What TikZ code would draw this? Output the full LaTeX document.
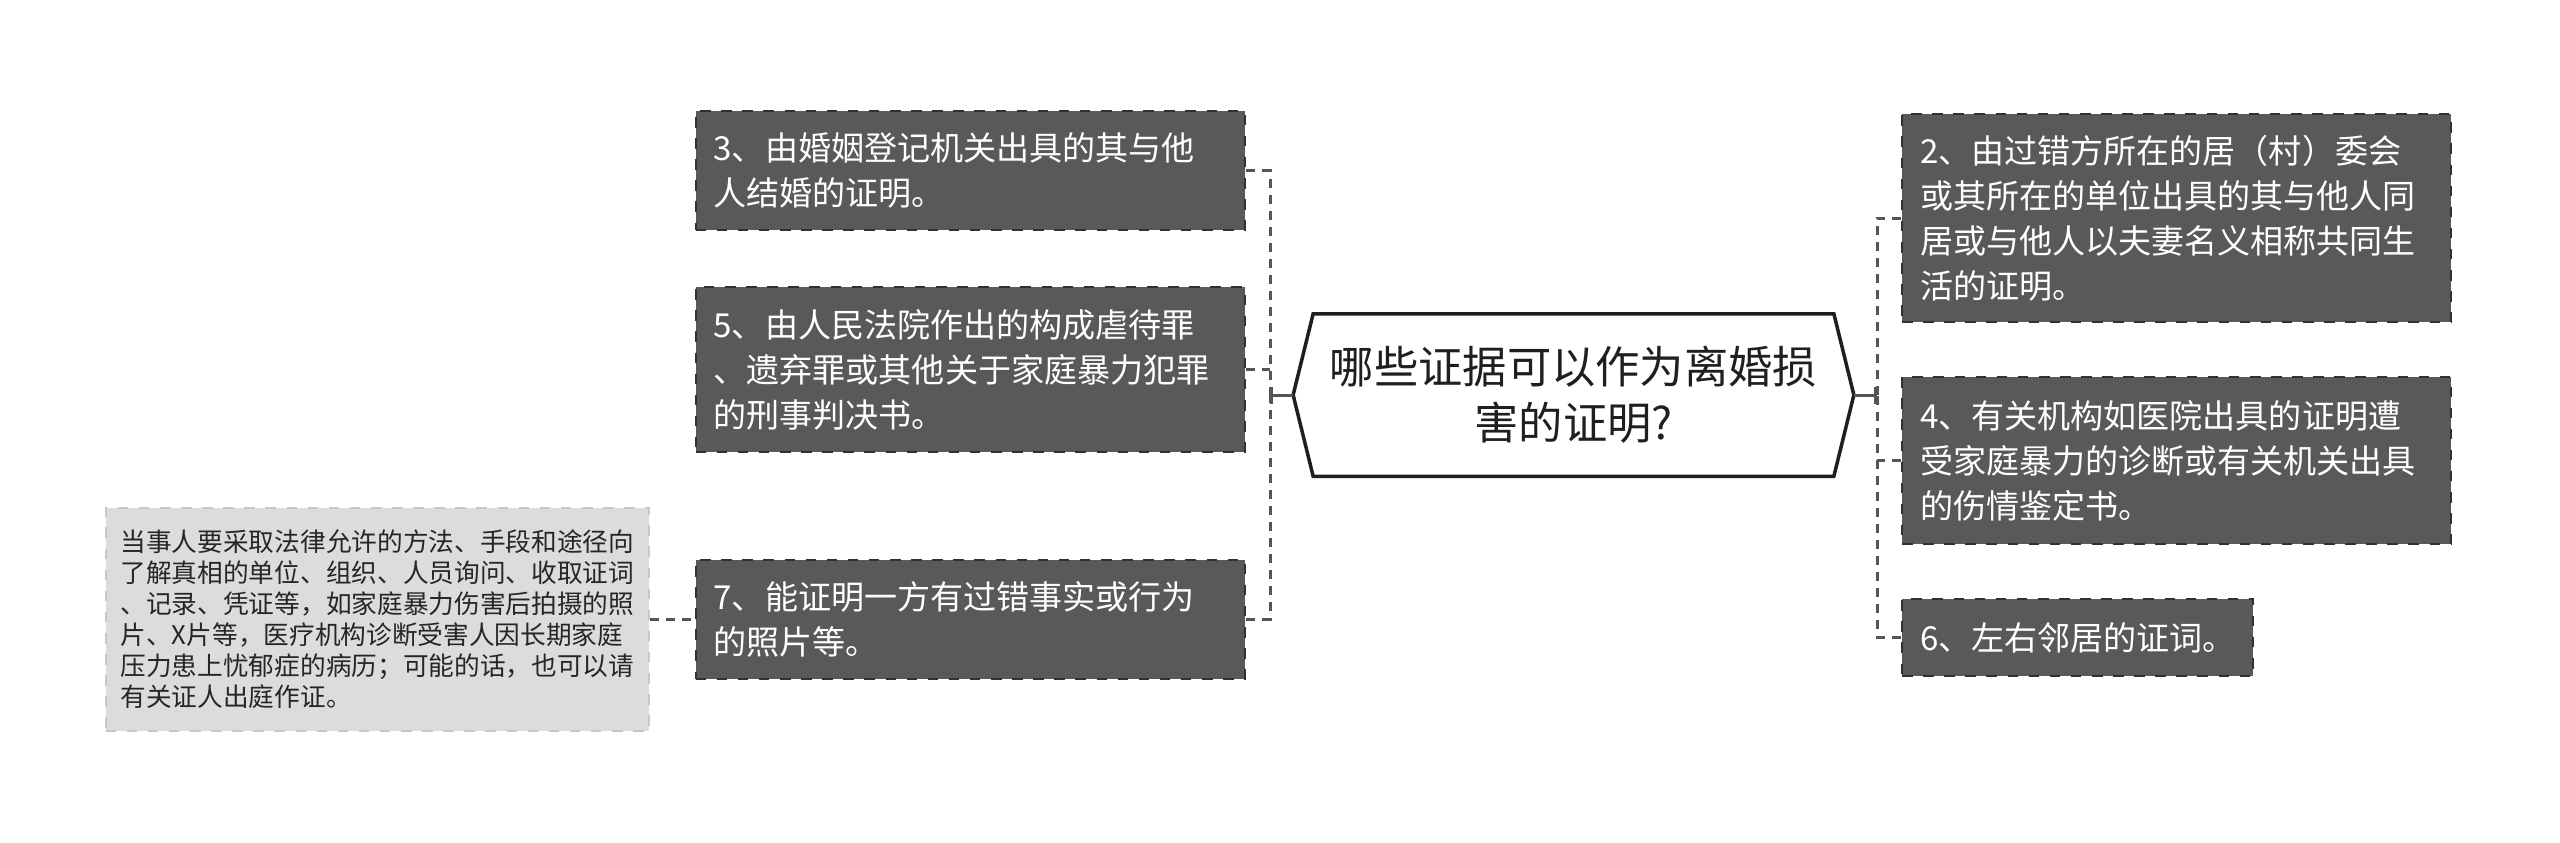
\documentclass[tikz,border=0pt]{standalone}
\usepackage{fontspec}
\setmainfont{Noto Sans CJK SC}
\usepackage{xcolor}
\usetikzlibrary{arrows.meta}
\definecolor{leafgray}{HTML}{595959}
\definecolor{notegray}{HTML}{DCDCDC}
\definecolor{linkgray}{HTML}{555555}

\begin{document}
\begin{tikzpicture}[x=0.01cm, y=-0.01cm,
    leaf/.style={draw=leafgray!55!black, dashed, line width=0.6pt, fill=leafgray,
      text=white, font=\fontsize{9.4}{12.8}\selectfont, align=left,
      inner xsep=0.18cm, inner ysep=0pt, text width=5.13cm},
    note/.style={draw=black!22, dashed, line width=0.6pt, fill=notegray,
      text=black!85, font=\fontsize{7.3}{8.8}\selectfont, align=left,
      inner xsep=0.15cm, inner ysep=0pt, text width=5.13cm, minimum height=2.23cm},
    link/.style={draw=linkgray, line width=0.03cm, dash pattern=on 0.09cm off 0.07cm},
    stem/.style={draw=linkgray, line width=0.03cm, -{Bar[width=0.17cm,line width=0.03cm]}},
    hexline/.style={draw=black!88, line width=0.035cm, line join=miter}]
    \useasboundingbox (0,0) rectangle (2560,842);

    % centre
    \node[font=\fontsize{12.6}{15.9}\selectfont, align=center, text=black!88,
          minimum width=5.59cm, minimum height=1.61cm] (root) at (1573.5,395)
      {哪些证据可以作为离婚损\\害的证明?};
    \draw[hexline] ([xshift=0.2cm]root.north west) -- ([xshift=-0.2cm]root.north east)
      -- (root.east) -- ([xshift=-0.2cm]root.south east)
      -- ([xshift=0.2cm]root.south west) -- (root.west) -- cycle;

    % left side
    \node[leaf, minimum height=1.19cm, anchor=east] (b3) at (1246,170.5)
      {3、由婚姻登记机关出具的其与他\\人结婚的证明。};
    \node[leaf, minimum height=1.65cm, anchor=east] (b5) at (1246,369.5)
      {5、由人民法院作出的构成虐待罪\\、遗弃罪或其他关于家庭暴力犯罪\\的刑事判决书。};
    \node[leaf, minimum height=1.19cm, anchor=east] (b7) at (1246,619.5)
      {7、能证明一方有过错事实或行为\\的照片等。};
    \node[note, anchor=east] (n7) at (650,619.5)
      {当事人要采取法律允许的方法、手段和途径向\\
       了解真相的单位、组织、人员询问、收取证词\\
       、记录、凭证等，如家庭暴力伤害后拍摄的照\\
       片、X片等，医疗机构诊断受害人因长期家庭\\
       压力患上忧郁症的病历；可能的话，也可以请\\
       有关证人出庭作证。};

    % right side
    \node[leaf, minimum height=2.08cm, anchor=west] (b2) at (1901,218)
      {2、由过错方所在的居（村）委会\\或其所在的单位出具的其与他人同\\居或与他人以夫妻名义相称共同生\\活的证明。};
    \node[leaf, minimum height=1.67cm, anchor=west] (b4) at (1901,460.5)
      {4、有关机构如医院出具的证明遭\\受家庭暴力的诊断或有关机关出具\\的伤情鉴定书。};
    \node[leaf, minimum height=0.77cm, text width=3.15cm, anchor=west] (b6) at (1901,637.5)
      {6、左右邻居的证词。};

    % connectors
    \coordinate (ljoin) at (1270,395);
    \coordinate (rjoin) at (1877,395);
    \draw[link] (b3.east) -| (ljoin);
    \draw[link] (b7.east) -| (ljoin);
    \draw[link] (b5.east) -- (b5.east -| ljoin);
    \draw[stem] (root.west) -- (ljoin);
    \draw[link] (b2.west) -| (rjoin);
    \draw[link] (b6.west) -| (rjoin);
    \draw[link] (b4.west) -- (b4.west -| rjoin);
    \draw[stem] (root.east) -- (rjoin);
    \draw[link] (n7.east) -- (b7.west);
\end{tikzpicture}
\end{document}
